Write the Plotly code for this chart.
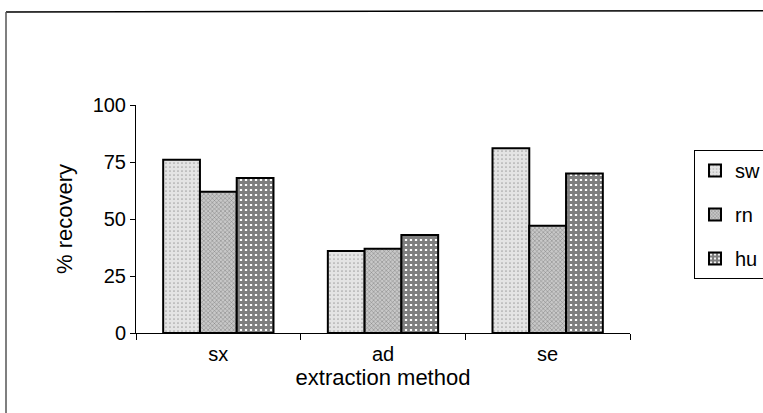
import plotly.graph_objects as go

categories = ["sx", "ad", "se"]
series_names = ["sw", "rn", "hu"]
sw = [76, 36, 81]
rn = [62, 37, 47]
hu = [68, 43, 70]
y_ticks = [0, 25, 50, 75, 100]

values = [sw, rn, hu]
patterns = [
    dict(shape=".", fgcolor="#666666", bgcolor="#e4e4e4", size=4, solidity=0.15),
    dict(shape="x", fgcolor="#333333", bgcolor="#c8c8c8", size=3, solidity=0.3),
    dict(shape="+", fgcolor="#000000", bgcolor="#ffffff", size=5, solidity=0.8),
]

fig = go.Figure()
for name, vals, pat in zip(series_names, values, patterns):
    fig.add_trace(go.Bar(
        x=categories, y=vals, name=name, legendgroup=name,
        marker=dict(color=pat["bgcolor"], pattern=pat,
                    line=dict(color="black", width=2)),
    ))

font = "Liberation Sans, Arial, sans-serif"
fig.update_layout(
    width=763, height=413,
    margin=dict(l=136, r=133, t=105, b=80, autoexpand=False),
    paper_bgcolor="white", plot_bgcolor="white",
    barmode="group", bargap=0.33, bargroupgap=0,
    font=dict(family=font, size=20, color="black"),
    showlegend=True,
    legend=dict(xref="container", yref="container",
                x=694/763, y=1-150/413, xanchor="left", yanchor="top",
                bordercolor="black", borderwidth=1, bgcolor="white",
                font=dict(size=20), tracegroupgap=15, itemwidth=30),
    xaxis=dict(showline=True, linecolor="black", linewidth=1,
               ticks="outside", tickson="boundaries", ticklen=6,
               tickcolor="black", showgrid=False, ticklabelstandoff=3,
               title=dict(text="extraction method", standoff=0,
                          font=dict(size=22))),
    yaxis=dict(range=[0, 100], tickvals=y_ticks, showline=True,
               linecolor="black", linewidth=1, ticks="outside", ticklen=5,
               tickcolor="black", showgrid=False, zeroline=False,
               title=dict(text="% recovery", standoff=13, font=dict(size=22))),
    shapes=[
        dict(type="line", xref="paper", yref="paper",
             x0=-130/494, x1=2, y0=(333-12)/228, y1=(333-10)/228,
             line=dict(color="black", width=1.5)),
        dict(type="line", xref="paper", yref="paper",
             x0=-130/494, x1=-130/494, y0=(333-12)/228, y1=-1,
             line=dict(color="#555555", width=1.5)),
    ],
)
fig.write_html("out.html")
